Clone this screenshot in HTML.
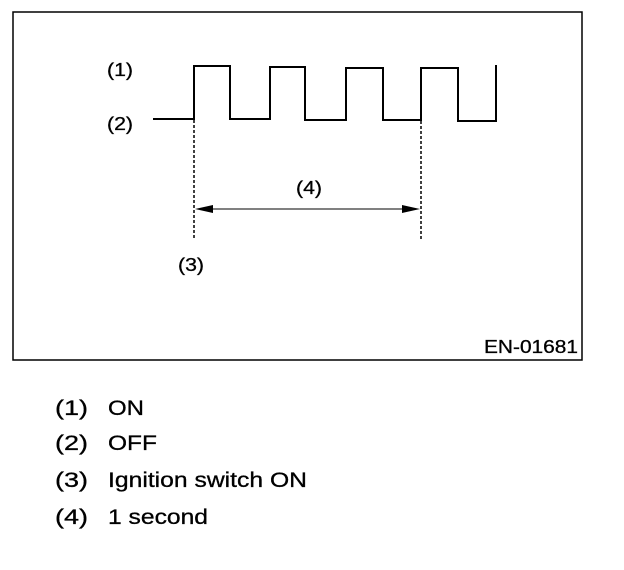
<!DOCTYPE html>
<html><head><style>
body{margin:0;background:#fff;width:624px;height:570px;overflow:hidden;font-family:"Liberation Sans",Arial,sans-serif;}
</style></head><body>
<svg width="624" height="570" xmlns="http://www.w3.org/2000/svg" style="position:absolute;left:0;top:0">
<rect x="13" y="12" width="569" height="348" fill="none" stroke="#000" stroke-width="1.5"/>
<polyline points="153,119 194,119 194,66 230,66 230,119 270,119 270,67 305,67 305,120 346,120 346,68 383,68 383,120 421,120 421,68 458,68 458,121 496,121 496,65" fill="none" stroke="#000" stroke-width="2"/>
<line x1="194" y1="120" x2="194" y2="238" stroke="#000" stroke-width="1.5" stroke-dasharray="3,2"/>
<line x1="421" y1="121" x2="421" y2="241" stroke="#000" stroke-width="1.5" stroke-dasharray="3,2"/>
<line x1="200" y1="209" x2="415" y2="209" stroke="#000" stroke-width="1"/>
<polygon points="195,209 213,205 213,213" fill="#000"/>
<polygon points="420,209 402,205 402,213" fill="#000"/>
<g font-size="18" fill="#000" stroke="#000" stroke-width="0.3">
<text x="107" y="76" textLength="26" lengthAdjust="spacingAndGlyphs">(1)</text>
<text x="107" y="130" textLength="26" lengthAdjust="spacingAndGlyphs">(2)</text>
<text x="296" y="194" textLength="26" lengthAdjust="spacingAndGlyphs">(4)</text>
<text x="178" y="271" textLength="26" lengthAdjust="spacingAndGlyphs">(3)</text>
<text x="484" y="353" textLength="94" lengthAdjust="spacingAndGlyphs">EN-01681</text>
</g>
<g font-size="21" fill="#000" stroke="#000" stroke-width="0.3">
<text x="55" y="415" textLength="33" lengthAdjust="spacingAndGlyphs">(1)</text><text x="108" y="415" textLength="36" lengthAdjust="spacingAndGlyphs">ON</text>
<text x="55" y="450" textLength="33" lengthAdjust="spacingAndGlyphs">(2)</text><text x="108" y="450" textLength="49" lengthAdjust="spacingAndGlyphs">OFF</text>
<text x="55" y="487" textLength="33" lengthAdjust="spacingAndGlyphs">(3)</text><text x="108" y="487" textLength="199" lengthAdjust="spacingAndGlyphs">Ignition switch ON</text>
<text x="55" y="524" textLength="33" lengthAdjust="spacingAndGlyphs">(4)</text><text x="108" y="524" textLength="100" lengthAdjust="spacingAndGlyphs">1 second</text>
</g>
</svg>
</body></html>
